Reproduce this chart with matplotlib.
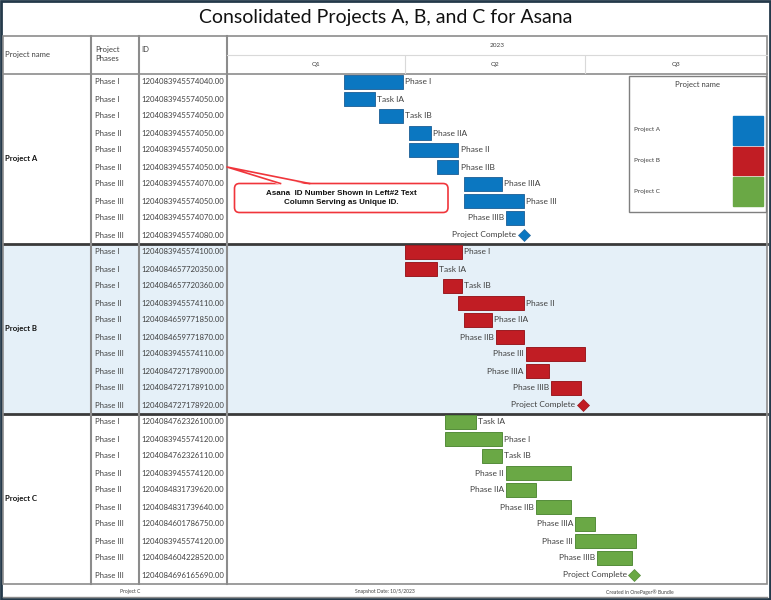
import matplotlib
matplotlib.use("Agg")
import matplotlib.pyplot as plt
import matplotlib.dates as mdates
from matplotlib.patches import FancyBboxPatch, Polygon, Rectangle
from datetime import datetime

plt.rcParams["font.family"] = ["Lato", "DejaVu Sans"]

# ---- data ----
title = "Consolidated Projects A, B, and C for Asana"
projects = ["Project A", "Project B", "Project C"]
colors = ["#0b77c1", "#c11d24", "#6aa845"]
edge_colors = ["#2a6a9e", "#9a1c22", "#558c3a"]

year_label = "2023"
quarter_starts = ["2023-01-01", "2023-04-01", "2023-07-01", "2023-10-01"]
quarter_labels = ["Q1", "Q2", "Q3"]

a_tasks = ["Phase I", "Task IA", "Task IB", "Phase IIA", "Phase II", "Phase IIB",
           "Phase IIIA", "Phase III", "Phase IIIB", "Project Complete"]
a_phases = ["Phase I"] * 3 + ["Phase II"] * 3 + ["Phase III"] * 4
a_ids = ["1204083945574040.00", "1204083945574050.00", "1204083945574050.00",
         "1204083945574050.00", "1204083945574050.00", "1204083945574050.00",
         "1204083945574070.00", "1204083945574050.00", "1204083945574070.00",
         "1204083945574080.00"]
a_start = ["2023-03-01", "2023-03-01", "2023-03-19", "2023-04-03", "2023-04-03",
           "2023-04-17", "2023-05-01", "2023-05-01", "2023-05-22", "2023-05-31"]
a_end = ["2023-03-31", "2023-03-17", "2023-03-31", "2023-04-14", "2023-04-28",
         "2023-04-28", "2023-05-20", "2023-05-31", "2023-05-31", "2023-05-31"]
a_side = ["r", "r", "r", "r", "r", "r", "r", "r", "l", "l"]

b_tasks = ["Phase I", "Task IA", "Task IB", "Phase II", "Phase IIA", "Phase IIB",
           "Phase III", "Phase IIIA", "Phase IIIB", "Project Complete"]
b_phases = ["Phase I"] * 3 + ["Phase II"] * 3 + ["Phase III"] * 4
b_ids = ["1204083945574100.00", "1204084657720350.00", "1204084657720360.00",
         "1204083945574110.00", "1204084659771850.00", "1204084659771870.00",
         "1204083945574110.00", "1204084727178900.00", "1204084727178910.00",
         "1204084727178920.00"]
b_start = ["2023-04-01", "2023-04-01", "2023-04-20", "2023-04-28", "2023-05-01",
           "2023-05-17", "2023-06-01", "2023-06-01", "2023-06-14", "2023-06-30"]
b_end = ["2023-04-30", "2023-04-17", "2023-04-30", "2023-05-31", "2023-05-15",
         "2023-05-31", "2023-07-01", "2023-06-13", "2023-06-29", "2023-06-30"]
b_side = ["r", "r", "r", "r", "r", "l", "l", "l", "l", "l"]

c_tasks = ["Task IA", "Phase I", "Task IB", "Phase II", "Phase IIA", "Phase IIB",
           "Phase IIIA", "Phase III", "Phase IIIB", "Project Complete"]
c_phases = ["Phase I"] * 3 + ["Phase II"] * 3 + ["Phase III"] * 4
c_ids = ["1204084762326100.00", "1204083945574120.00", "1204084762326110.00",
         "1204083945574120.00", "1204084831739620.00", "1204084831739640.00",
         "1204084601786750.00", "1204083945574120.00", "1204084604228520.00",
         "1204084696165690.00"]
c_start = ["2023-04-21", "2023-04-21", "2023-05-10", "2023-05-22", "2023-05-22",
           "2023-06-06", "2023-06-26", "2023-06-26", "2023-07-07", "2023-07-26"]
c_end = ["2023-05-07", "2023-05-20", "2023-05-20", "2023-06-24", "2023-06-06",
         "2023-06-24", "2023-07-06", "2023-07-27", "2023-07-25", "2023-07-26"]
c_side = ["r", "r", "r", "l", "l", "l", "l", "l", "l", "l"]

callout_text = "Asana  ID Number Shown in Left#2 Text\nColumn Serving as Unique ID."
footer_left = "Project C"
footer_mid = "Snapshot Date: 10/5/2023"
footer_right = "Created in OnePager\u00ae Bundle"

groups = [
    (a_tasks, a_phases, a_ids, a_start, a_end, a_side),
    (b_tasks, b_phases, b_ids, b_start, b_end, b_side),
    (c_tasks, c_phases, c_ids, c_start, c_end, c_side),
]

# ---- layout (pixels) ----
W, H = 771, 600
x_name, x_phase, x_id, x_chart, x_right = 3, 91, 139, 227, 767
y_top, y_mid, y_head, row_h = 36, 55, 73.5, 17
n_rows = sum(len(g[0]) for g in groups)
y_bottom = y_head + n_rows * row_h
txt = "#404040"
grid = "#8c8c8c"

fig = plt.figure(figsize=(W / 100, H / 100), dpi=100)
tab = fig.add_axes([0, 0, 1, 1])
tab.set_xlim(0, W)
tab.set_ylim(H, 0)
tab.axis("off")

# outer frame and title
tab.add_patch(Rectangle((1, 1), W - 2, H - 2.5, fill=False, ec="#24394a", lw=2))
tab.text(W / 2, 18, title, ha="center", va="center", fontsize=14, color="#111111")

# project B band
row0 = 0
for p, g in enumerate(groups):
    top = y_head + row0 * row_h
    bot = top + len(g[0]) * row_h
    if p == 1:
        tab.add_patch(Rectangle((x_name, top), x_right - x_name, bot - top,
                                color="#e5f0f8", lw=0, zorder=0))
    # left column text
    tab.text(x_name + 2, (top + bot) / 2, projects[p], ha="left", va="center",
             fontsize=5.6, fontweight="bold", color="#111111")
    for i in range(len(g[0])):
        yy = top + row_h * (i + 0.5)
        tab.text(x_phase + 4, yy, g[1][i], ha="left", va="center", fontsize=5.6, color=txt)
        tab.text(x_id + 2, yy, g[2][i], ha="left", va="center", fontsize=5.6, color=txt)
    if p > 0:
        tab.plot([x_name, x_right], [top, top], color="#3a3a3a", lw=2, zorder=3)
    row0 += len(g[0])

# table lines
tab.add_patch(Rectangle((x_name, y_top), x_right - x_name, y_bottom - y_top,
                        fill=False, ec=grid, lw=1.2, zorder=3))
for xx in [x_phase, x_id, x_chart]:
    tab.plot([xx, xx], [y_top, y_bottom], color=grid, lw=1.5, zorder=3)
tab.plot([x_name, x_right], [y_head, y_head], color=grid, lw=1.2, zorder=3)
tab.plot([x_chart, x_right], [y_mid, y_mid], color="#d9d9d9", lw=0.8, zorder=3)
tab.plot([x_name, x_right], [597, 597], color=grid, lw=1, zorder=3)

# column headers
tab.text(x_name + 2, 54, "Project name", ha="left", va="center", fontsize=5.6, color=txt)
tab.text(x_phase + 4, 54, "Project\nPhases", ha="left", va="center", fontsize=5.6,
         color=txt, linespacing=1.3)
tab.text(x_id + 2, 49, "ID", ha="left", va="center", fontsize=5.6, color=txt)

# footer
tab.text(130, 592, footer_left, ha="center", va="center", fontsize=3.6, color=txt)
tab.text(385, 592, footer_mid, ha="center", va="center", fontsize=3.6, color=txt)
tab.text(640, 592, footer_right, ha="center", va="center", fontsize=3.6, color=txt)

# ---- gantt axes ----
t0 = mdates.datestr2num(quarter_starts[0])
t1 = mdates.datestr2num(quarter_starts[-1])
ax = fig.add_axes([x_chart / W, 1 - y_bottom / H, (x_right - x_chart) / W,
                   (y_bottom - y_head) / H])
ax.set_facecolor("none")
ax.set_xlim(t0, t1)
ax.set_ylim(n_rows - 0.5, -0.5)
ax.axis("off")

row0 = 0
for p, (tasks, phases, ids, starts, ends, sides) in enumerate(groups):
    for i, name in enumerate(tasks):
        y = row0 + i
        s = mdates.datestr2num(starts[i])
        e = mdates.datestr2num(ends[i])
        if e > s:
            ax.barh(y, e - s, left=s, height=0.8, color=colors[p],
                    edgecolor=edge_colors[p], linewidth=0.7)
            if sides[i] == "r":
                ax.annotate(name, (e, y), xytext=(1.5, 0), textcoords="offset points",
                            ha="left", va="center", fontsize=6, color=txt)
            else:
                ax.annotate(name, (s, y), xytext=(-1.5, 0), textcoords="offset points",
                            ha="right", va="center", fontsize=6, color=txt)
        else:
            ax.plot(s, y, marker="D", ms=6.5, color=colors[p],
                    markeredgecolor=edge_colors[p], markeredgewidth=0.5)
            ax.annotate(name, (s, y), xytext=(-5.5, 0), textcoords="offset points",
                        ha="right", va="center", fontsize=6, color=txt)
    row0 += len(tasks)

# ---- time header ----
hdr = fig.add_axes([x_chart / W, 1 - y_head / H, (x_right - x_chart) / W,
                    (y_head - y_top) / H])
hdr.set_facecolor("none")
hdr.set_xlim(t0, t1)
hdr.set_ylim(0, y_head - y_top)
hdr.axis("off")
q_nums = [mdates.datestr2num(q) for q in quarter_starts]
q_row = y_head - y_mid
hdr.text((t0 + t1) / 2, q_row + (y_mid - y_top) / 2, year_label, ha="center",
         va="center", fontsize=4.6, color=txt)
for k, lab in enumerate(quarter_labels):
    hdr.text((q_nums[k] + q_nums[k + 1]) / 2, q_row / 2, lab, ha="center",
             va="center", fontsize=4.6, color=txt)
hdr.vlines(q_nums[1:-1], 0, q_row, color="#d9d9d9", lw=0.8)

# ---- legend box ----
tab.add_patch(Rectangle((629, 76), 137, 136, fill=True, fc="white", ec="#7f7f7f",
                        lw=1, zorder=4))
tab.text(697.5, 85, "Project name", ha="center", va="center", fontsize=5.6,
         color=txt, zorder=5)
for k, name in enumerate(projects):
    sy = 116 + k * 30.7
    tab.add_patch(Rectangle((733, sy), 30, 28.5, color=colors[k], zorder=5))
    tab.text(634, sy + 14, name, ha="left", va="center", fontsize=4.6,
             color=txt, zorder=5)

# ---- callout ----
tip_y = y_head + row_h * 5.5
red = "#f0353b"
tab.add_patch(FancyBboxPatch((234.5, 183.5), 213.5, 29, boxstyle="round,pad=0,rounding_size=5",
                             fc="white", ec=red, lw=1.2, zorder=6))
tab.add_patch(Polygon([(280.5, 185), (x_chart, tip_y), (309.5, 185)], closed=True,
                      fc="white", ec="none", zorder=7))
tab.plot([280.5, x_chart, 309.5], [183.5, tip_y, 183.5], color=red, lw=1.2, zorder=7)
tab.text(341, 198, callout_text, ha="center", va="center", fontsize=5.8,
         fontweight="bold", family=["Liberation Sans", "DejaVu Sans"],
         color="#111111", linespacing=1.25, zorder=8)

fig.savefig("out.png", dpi=100)
